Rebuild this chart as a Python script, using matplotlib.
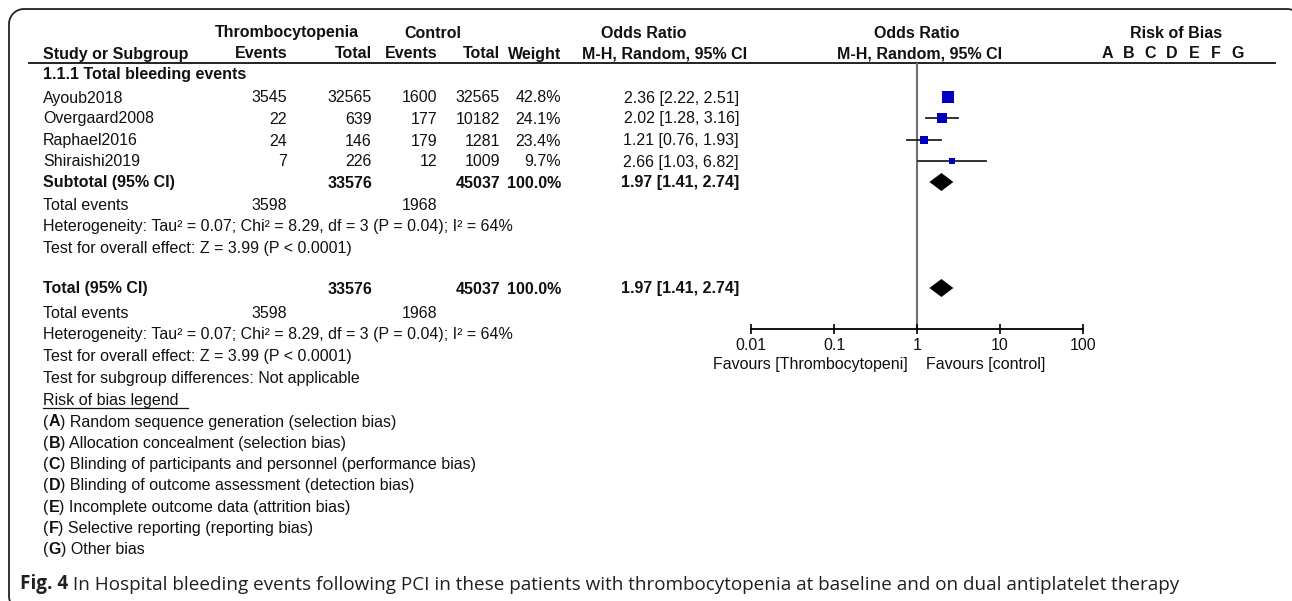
import numpy as np
import matplotlib.pyplot as plt

W, H = 1292, 601

# study data
studies = ["Ayoub2018", "Overgaard2008", "Raphael2016", "Shiraishi2019"]
ev_t = [3545, 22, 24, 7]
tot_t = [32565, 639, 146, 226]
ev_c = [1600, 177, 179, 12]
tot_c = [32565, 10182, 1281, 1009]
weight = [42.8, 24.1, 23.4, 9.7]
or_est = [2.36, 2.02, 1.21, 2.66]
or_lo = [2.22, 1.28, 0.76, 1.03]
or_hi = [2.51, 3.16, 1.93, 6.82]

# pooled
sum_tot_t, sum_tot_c = 33576, 45037
sum_ev_t, sum_ev_c = 3598, 1968
pooled = [1.97, 1.41, 2.74]
het_text = "Heterogeneity: Tau\u00b2 = 0.07; Chi\u00b2 = 8.29, df = 3 (P = 0.04); I\u00b2 = 64%"
effect_text = "Test for overall effect: Z = 3.99 (P < 0.0001)"

x_ticks = [0.01, 0.1, 1, 10, 100]
x_tick_labels = ["0.01", "0.1", "1", "10", "100"]
bias_letters = list("ABCDEFG")
bias_legend = [
    ("A", "Random sequence generation (selection bias)"),
    ("B", "Allocation concealment (selection bias)"),
    ("C", "Blinding of participants and personnel (performance bias)"),
    ("D", "Blinding of outcome assessment (detection bias)"),
    ("E", "Incomplete outcome data (attrition bias)"),
    ("F", "Selective reporting (reporting bias)"),
    ("G", "Other bias"),
]
caption_head = "Fig. 4"
caption_body = (" In Hospital bleeding events following PCI in these patients with "
                "thrombocytopenia at baseline and on dual antiplatelet therapy")

FONT = "Liberation Sans"
FS = 11.5
BASE = 5.5  # baseline offset below the row centre, px
plt.rcParams["font.family"] = [FONT, "DejaVu Sans"]

fig = plt.figure(figsize=(W / 100, H / 100), dpi=100)
ax = fig.add_axes([0, 0, 1, 1])
ax.set_xlim(0, W)
ax.set_ylim(H, 0)
ax.axis("off")


def arc(cx, cy, r, a0, a1):
    t = np.radians(np.linspace(a0, a1, 20))
    return cx + r * np.cos(t), cy + r * np.sin(t)


# rounded frame (runs off the right and bottom edges)
R = 15
L, T, Rt, B = 9, 9, 1302, 611
bl_x, bl_y = arc(L + R, B - R, R, 180, 90)
tl_x, tl_y = arc(L + R, T + R, R, 180, 270)
tr_x, tr_y = arc(Rt - R, T + R, R, 270, 360)
ax.plot(np.concatenate([bl_x[::-1], tl_x, tr_x]),
        np.concatenate([bl_y[::-1], tl_y, tr_y]),
        color="#222222", lw=1.3, solid_capstyle="butt")


def txt(x, y, s, ha="left", bold=False, **kw):
    return ax.text(x, y + BASE, s, ha=ha, va="baseline", fontsize=kw.pop("fontsize", FS),
                   fontweight="bold" if bold else "normal", color=kw.pop("color", "#111111"), **kw)


def runs(x, y, parts, fontsize=FS, family=None, color="#111111"):
    fam = family or [FONT, "DejaVu Sans"]
    t = ax.text(x, y, parts[0][0], ha="left", va="baseline", fontsize=fontsize,
                fontweight=parts[0][1], family=fam, color=color)
    for s, wgt in parts[1:]:
        t = ax.annotate(s, xy=(1, 0), xycoords=t, xytext=(0, 0), textcoords="offset points",
                        ha="left", va="bottom", fontsize=fontsize, fontweight=wgt,
                        family=fam, color=color)
    return t


# column positions
c_study, c_evt, c_tott, c_evc, c_totc, c_w, c_or = 43, 287, 372, 437, 500, 561, 739

# headers
txt(287, 32, "Thrombocytopenia", ha="center", bold=True)
txt(433, 32, "Control", ha="center", bold=True)
txt(644, 32, "Odds Ratio", ha="center", bold=True)
txt(917, 32, "Odds Ratio", ha="center", bold=True)
txt(1176, 32, "Risk of Bias", ha="center", bold=True)
txt(c_study, 53, "Study or Subgroup", bold=True)
txt(c_evt, 53, "Events", ha="right", bold=True)
txt(c_tott, 53, "Total", ha="right", bold=True)
txt(c_evc, 53, "Events", ha="right", bold=True)
txt(c_totc, 53, "Total", ha="right", bold=True)
txt(c_w, 53, "Weight", ha="right", bold=True)
txt(665, 53, "M-H, Random, 95% CI", ha="center", bold=True)
txt(920, 53, "M-H, Random, 95% CI", ha="center", bold=True)
for i, letter in enumerate(bias_letters):
    txt(1107 + i * 21.7, 53, letter, ha="center", bold=True)
ax.plot([29, 1275], [63, 63], color="#111111", lw=1.3)

txt(c_study, 74, "1.1.1 Total bleeding events", bold=True)

rows_y = [97, 118, 140, 161]
for i, y in enumerate(rows_y):
    txt(c_study, y, studies[i])
    txt(c_evt, y, f"{ev_t[i]}", ha="right")
    txt(c_tott, y, f"{tot_t[i]}", ha="right")
    txt(c_evc, y, f"{ev_c[i]}", ha="right")
    txt(c_totc, y, f"{tot_c[i]}", ha="right")
    txt(c_w, y, f"{weight[i]:.1f}%", ha="right")
    txt(c_or, y, f"{or_est[i]:.2f} [{or_lo[i]:.2f}, {or_hi[i]:.2f}]", ha="right")

pooled_str = f"{pooled[0]:.2f} [{pooled[1]:.2f}, {pooled[2]:.2f}]"


def summary_block(y0, label, y_ev, y_het, y_eff):
    txt(c_study, y0, label, bold=True)
    txt(c_tott, y0, f"{sum_tot_t}", ha="right", bold=True)
    txt(c_totc, y0, f"{sum_tot_c}", ha="right", bold=True)
    txt(c_w, y0, "100.0%", ha="right", bold=True)
    txt(c_or, y0, pooled_str, ha="right", bold=True)
    txt(c_study, y_ev, "Total events")
    txt(c_evt, y_ev, f"{sum_ev_t}", ha="right")
    txt(c_evc, y_ev, f"{sum_ev_c}", ha="right")
    txt(c_study, y_het, het_text)
    txt(c_study, y_eff, effect_text)


summary_block(182, "Subtotal (95% CI)", 205, 226, 248)
summary_block(288, "Total (95% CI)", 312, 333, 355)
txt(c_study, 377, "Test for subgroup differences: Not applicable")

txt(c_study, 399, "Risk of bias legend ")
ax.plot([43, 188], [407.5, 407.5], color="#111111", lw=0.9)
for i, (letter, desc) in enumerate(bias_legend):
    y = 421 + i * 21.3
    runs(c_study, y + BASE, [("(", "normal"), (letter, "bold"), (") " + desc, "normal")])

runs(20, 589, [(caption_head, "bold"), (caption_body, "normal")], fontsize=13.6,
     family=["Open Sans", "DejaVu Sans"], color="#231f20")

# forest plot panel on a log scale
x0, x1, ytop, ybot = 751, 1083, 63, 329
fx = fig.add_axes([x0 / W, 1 - ybot / H, (x1 - x0) / W, (ybot - ytop) / H])
fx.set_xscale("log")
fx.set_xlim(0.01, 100)
fx.set_ylim(ybot, ytop)
fx.patch.set_alpha(0)
for side in ("top", "left", "right"):
    fx.spines[side].set_visible(False)
fx.spines["bottom"].set_linewidth(1.3)
fx.set_yticks([])
fx.set_xticks(x_ticks)
fx.set_xticklabels(x_tick_labels)
fx.minorticks_off()
fx.tick_params(axis="x", direction="inout", length=7, width=1.2, pad=3,
               labelsize=FS, labelcolor="#111111")
fx.axvline(1, color="#707070", lw=1.5, zorder=1)

for i, y in enumerate(rows_y):
    fx.plot([or_lo[i], or_hi[i]], [y, y], color="#222222", lw=1.3, zorder=2)
    side_px = 1.85 * np.sqrt(weight[i])
    fx.plot(or_est[i], y, marker="s", ms=side_px * 0.72, color="#0000c0", mec="#0000c0",
            mew=0, zorder=3)

for yc in (182, 288):
    est, lo, hi = pooled
    fx.fill([lo, est, hi, est], [yc, yc - 9, yc, yc + 9], color="black", lw=0, zorder=3)

txt(908, 363, "Favours [Thrombocytopeni]", ha="right")
txt(926, 363, "Favours [control]", ha="left")

fig.savefig("out.png", dpi=100)
